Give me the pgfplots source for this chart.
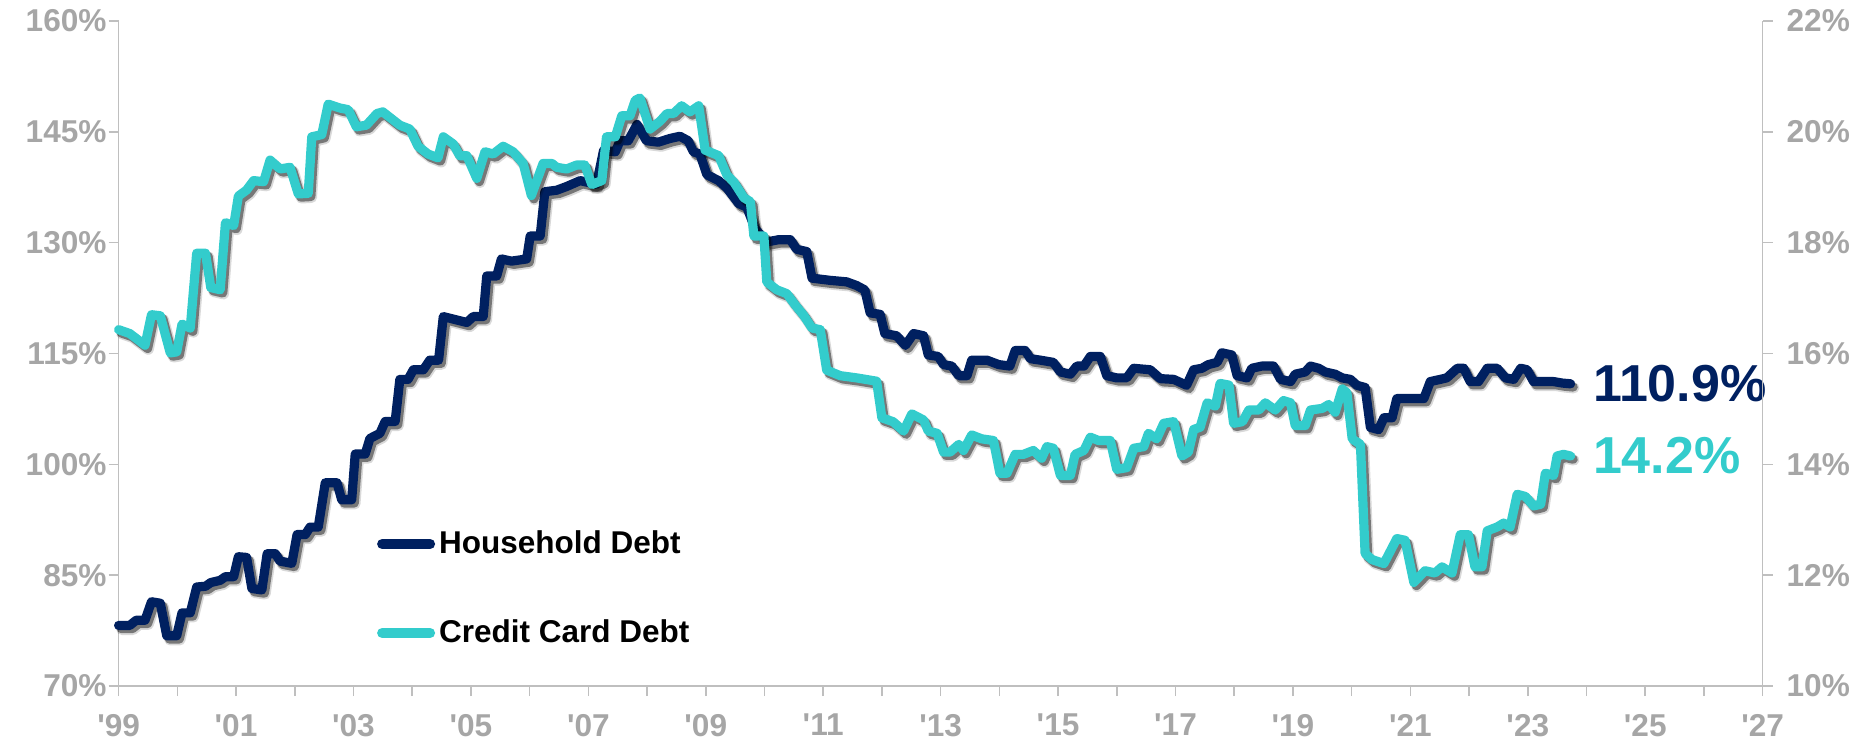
\documentclass[border=0pt]{standalone}
\usepackage{fontspec}
\setmainfont{Liberation Sans}
\usepackage{pgfplots}
\usepackage{pgfplotstable}
\pgfplotsset{compat=1.18}
\definecolor{navy}{HTML}{002060}
\definecolor{cyanline}{HTML}{33CCCC}
\definecolor{lblgray}{HTML}{A6A6A6}
\definecolor{axgray}{HTML}{BFBFBF}
\newcommand{\q}{\textquotesingle}

\pgfplotstableread{
x y
1999.00 78.2
1999.19 78.2
1999.30 78.9
1999.45 78.9
1999.56 81.4
1999.71 81.2
1999.82 76.8
1999.99 76.8
2000.08 79.9
2000.22 79.9
2000.33 83.4
2000.48 83.5
2000.57 84.0
2000.73 84.3
2000.82 84.8
2000.96 84.8
2001.04 87.5
2001.18 87.4
2001.27 83.2
2001.44 83.0
2001.53 87.9
2001.67 87.9
2001.75 86.9
2001.95 86.6
2002.04 90.5
2002.18 90.5
2002.26 91.5
2002.40 91.5
2002.52 97.5
2002.72 97.5
2002.80 95.2
2002.97 95.2
2003.03 101.4
2003.20 101.4
2003.28 103.5
2003.45 104.2
2003.54 105.8
2003.71 105.8
2003.79 111.5
2003.93 111.5
2004.02 112.8
2004.19 112.8
2004.30 114.1
2004.45 114.1
2004.53 120.0
2004.93 119.2
2005.04 120.0
2005.21 120.0
2005.27 125.5
2005.44 125.5
2005.52 127.8
2005.69 127.5
2005.95 127.8
2006.01 130.9
2006.18 130.9
2006.26 136.9
2006.46 137.1
2006.63 137.6
2006.86 138.4
2007.14 137.9
2007.26 142.5
2007.46 142.3
2007.54 143.8
2007.68 143.8
2007.83 146.0
2007.99 143.8
2008.19 143.6
2008.39 144.1
2008.56 144.4
2008.70 143.8
2008.79 142.3
2008.90 142.0
2009.02 139.2
2009.22 138.4
2009.36 137.4
2009.56 135.3
2009.70 134.8
2009.84 131.9
2010.04 130.1
2010.24 130.4
2010.44 130.4
2010.55 129.1
2010.72 128.8
2010.81 125.2
2011.12 124.9
2011.40 124.7
2011.57 124.2
2011.71 123.6
2011.80 120.5
2011.97 120.3
2012.05 117.7
2012.25 117.4
2012.40 116.1
2012.54 117.7
2012.71 117.4
2012.79 114.8
2012.96 114.6
2013.05 113.5
2013.19 113.3
2013.31 112.0
2013.45 112.0
2013.53 114.1
2013.79 114.1
2013.99 113.5
2014.18 113.3
2014.27 115.4
2014.44 115.4
2014.53 114.3
2014.70 114.1
2014.92 113.8
2015.04 112.5
2015.21 112.2
2015.32 113.3
2015.44 113.3
2015.55 114.6
2015.72 114.6
2015.83 112.0
2016.00 111.7
2016.17 111.7
2016.29 113.0
2016.57 112.8
2016.74 111.6
2016.97 111.5
2017.19 110.7
2017.31 112.8
2017.45 113.0
2017.56 113.5
2017.71 113.8
2017.79 115.1
2017.96 114.8
2018.05 112.0
2018.22 111.7
2018.30 113.0
2018.47 113.3
2018.67 113.3
2018.79 111.5
2018.96 111.2
2019.04 112.2
2019.21 112.5
2019.30 113.3
2019.44 113.0
2019.55 112.5
2019.72 112.2
2019.84 111.7
2019.98 111.5
2020.09 110.7
2020.23 110.4
2020.32 105.0
2020.46 104.7
2020.55 106.3
2020.69 106.3
2020.77 108.9
2020.95 108.9
2021.23 108.9
2021.34 111.2
2021.51 111.5
2021.62 111.7
2021.80 113.0
2021.91 113.0
2022.02 111.2
2022.16 111.2
2022.31 113.0
2022.48 113.0
2022.62 111.7
2022.76 111.5
2022.88 113.0
2022.99 112.8
2023.10 111.2
2023.44 111.2
2023.59 111.0
2023.73 110.9
}\hhdata

\pgfplotstableread{
x y
1999.00 16.43
1999.19 16.36
1999.45 16.15
1999.56 16.70
1999.71 16.68
1999.88 16.01
1999.99 16.03
2000.08 16.53
2000.22 16.46
2000.33 17.81
2000.48 17.81
2000.57 17.19
2000.73 17.15
2000.82 18.36
2000.96 18.31
2001.04 18.84
2001.18 18.95
2001.30 19.12
2001.47 19.10
2001.58 19.49
2001.75 19.33
2001.92 19.36
2002.06 18.88
2002.23 18.89
2002.29 19.91
2002.46 19.95
2002.57 20.50
2002.77 20.43
2002.91 20.40
2003.05 20.09
2003.22 20.12
2003.40 20.33
2003.50 20.36
2003.62 20.26
2003.79 20.12
2003.96 20.05
2004.10 19.74
2004.27 19.60
2004.44 19.53
2004.53 19.91
2004.70 19.78
2004.81 19.57
2004.93 19.57
2005.10 19.16
2005.24 19.64
2005.38 19.60
2005.55 19.74
2005.72 19.64
2005.89 19.43
2006.03 18.85
2006.23 19.43
2006.38 19.43
2006.46 19.36
2006.63 19.33
2006.80 19.40
2006.94 19.40
2007.06 19.05
2007.23 19.12
2007.31 19.91
2007.46 19.91
2007.57 20.29
2007.71 20.29
2007.80 20.57
2007.88 20.61
2008.05 20.05
2008.22 20.19
2008.34 20.33
2008.45 20.33
2008.59 20.47
2008.73 20.36
2008.88 20.47
2008.99 19.67
2009.22 19.57
2009.36 19.22
2009.48 19.09
2009.65 18.81
2009.76 18.74
2009.82 18.12
2009.99 18.12
2010.04 17.29
2010.21 17.15
2010.38 17.08
2010.52 16.88
2010.66 16.70
2010.81 16.46
2010.95 16.43
2011.06 15.70
2011.29 15.60
2011.57 15.56
2011.91 15.50
2012.00 14.84
2012.19 14.77
2012.37 14.60
2012.51 14.91
2012.71 14.80
2012.79 14.60
2012.94 14.56
2013.05 14.22
2013.16 14.22
2013.31 14.36
2013.39 14.25
2013.53 14.53
2013.70 14.46
2013.90 14.43
2014.01 13.84
2014.13 13.84
2014.27 14.18
2014.41 14.18
2014.58 14.25
2014.72 14.11
2014.81 14.32
2014.92 14.29
2015.04 13.80
2015.21 13.80
2015.29 14.18
2015.44 14.25
2015.55 14.49
2015.69 14.43
2015.89 14.43
2016.00 13.91
2016.17 13.94
2016.29 14.29
2016.46 14.32
2016.54 14.56
2016.68 14.46
2016.80 14.74
2016.97 14.77
2017.11 14.15
2017.22 14.22
2017.31 14.63
2017.42 14.67
2017.54 15.11
2017.68 15.05
2017.76 15.46
2017.91 15.43
2017.99 14.74
2018.14 14.77
2018.25 14.98
2018.42 14.98
2018.53 15.11
2018.70 14.98
2018.84 15.15
2018.96 15.11
2019.04 14.70
2019.21 14.70
2019.30 14.98
2019.50 15.01
2019.61 15.08
2019.72 14.94
2019.84 15.36
2019.92 15.29
2020.01 14.46
2020.15 14.36
2020.23 12.39
2020.35 12.28
2020.55 12.21
2020.77 12.66
2020.91 12.63
2021.06 11.87
2021.25 12.08
2021.42 12.04
2021.54 12.15
2021.71 12.04
2021.85 12.73
2021.99 12.73
2022.10 12.15
2022.22 12.15
2022.31 12.80
2022.48 12.87
2022.59 12.94
2022.70 12.87
2022.82 13.46
2022.96 13.42
2023.10 13.25
2023.22 13.28
2023.30 13.84
2023.44 13.80
2023.50 14.15
2023.61 14.18
2023.73 14.15
}\ccdata

\begin{document}
\begin{tikzpicture}
\useasboundingbox (0,0) rectangle (931pt,370pt);
\pgfplotsset{
  common/.style={
    at={(59.3pt,27pt)}, anchor=south west,
    scale only axis, width=822pt, height=332.5pt,
    xmin=1999, xmax=2027,
    axis line style={axgray, line width=0.8pt, -},
    tick style={axgray, line width=0.8pt},
    tick align=outside,
    major tick length=5pt, minor tick length=5pt,
    /pgf/number format/assume math mode=true,
    tick label style={font=\fontsize{15.8pt}{18pt}\selectfont\bfseries, text=lblgray},
    clip=false,
    legend image code/.code={\draw[##1] (0pt,0pt) -- (24pt,0pt);},
    legend style={draw=none, fill=none, inner sep=0pt,
      font=\fontsize{15.75pt}{18pt}\selectfont\bfseries,
      /tikz/every even column/.append style={column sep=2.5pt}},
    legend cell align=left,
  },
  shadow/.style={black, opacity=0.45, line width=4.6pt, line join=round, line cap=round, xshift=1.3pt, yshift=-1.6pt, forget plot},
  shadowb/.style={black, opacity=0.15, line width=5.6pt, line join=round, line cap=round, xshift=1.6pt, yshift=-2.0pt, forget plot},
  mainline/.style={line width=4.6pt, line join=round, line cap=round, forget plot},
}
\begin{axis}[common,
  axis x line*=bottom, axis y line*=left,
  ymin=70, ymax=160, ytick={70,85,...,160},
  yticklabel={\pgfmathprintnumber{\tick}\%},
  yticklabel style={xshift=2.5pt},
  xticklabel style={yshift=-5.5pt},
  xtick={1999,2001,...,2027},
  xticklabels={\q99,\q01,\q03,\q05,\q07,\q09,\q11,\q13,\q15,\q17,\q19,\q21,\q23,\q25,\q27},
  minor xtick={2000,2002,...,2026},
  legend style={at={(rel axis cs:0.157,0.2135)}, anchor=west},
]
\addplot[shadowb] table[x=x,y=y]{\hhdata};
\addplot[shadow] table[x=x,y=y]{\hhdata};
\addplot[navy, mainline] table[x=x,y=y]{\hhdata};
\addlegendimage{navy, line width=5pt, line cap=round}
\addlegendentry{Household Debt}
\node[anchor=west, text=navy, font=\fontsize{26pt}{30pt}\selectfont\bfseries, inner sep=0pt, xshift=11pt] at (axis cs:2023.73,110.9) {110.9\%};
\end{axis}
\begin{axis}[common,
  axis y line*=right, axis x line=none,
  ymin=10, ymax=22, ytick={10,12,...,22},
  yticklabel={\pgfmathprintnumber{\tick}\%},
  yticklabel style={xshift=3.5pt},
  xtick=\empty,
  legend style={at={(rel axis cs:0.157,0.0797)}, anchor=west},
]
\addplot[shadowb] table[x=x,y=y]{\ccdata};
\addplot[shadow] table[x=x,y=y]{\ccdata};
\addplot[cyanline, mainline] table[x=x,y=y]{\ccdata};
\addlegendimage{cyanline, line width=5pt, line cap=round}
\addlegendentry{Credit Card Debt}
\node[anchor=west, text=cyanline, font=\fontsize{26pt}{30pt}\selectfont\bfseries, inner sep=0pt, xshift=11pt] at (axis cs:2023.73,14.15) {14.2\%};
\end{axis}
\end{tikzpicture}
\end{document}
